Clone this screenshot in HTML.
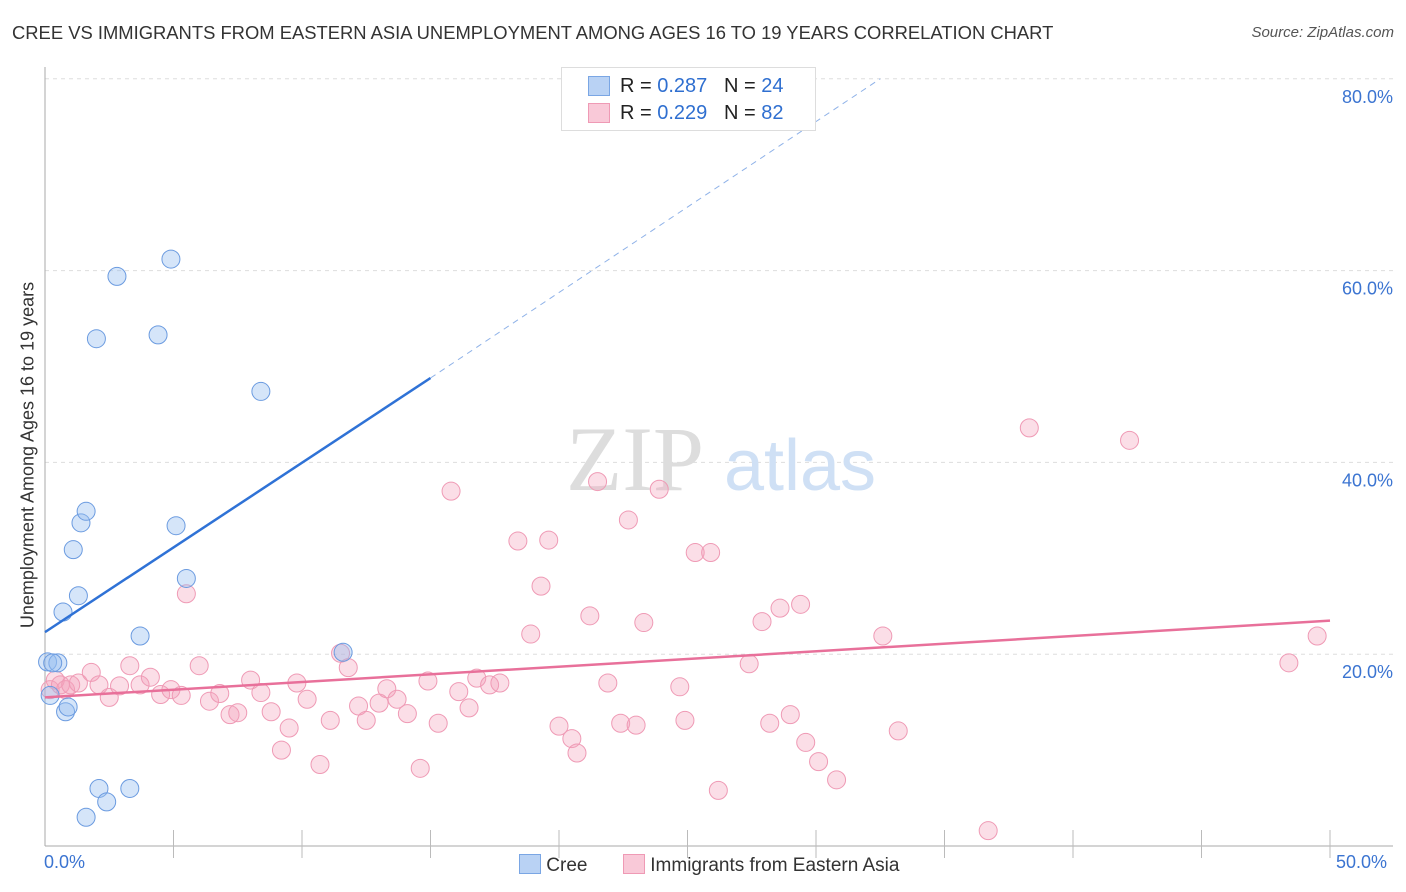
<!DOCTYPE html>
<html><head><meta charset="utf-8"><style>
body{margin:0;background:#fff;font-family:"Liberation Sans",sans-serif;}
#wrap{position:relative;width:1406px;height:892px;overflow:hidden;}
.t{position:absolute;white-space:nowrap;}
</style></head><body>
<div id="wrap">
<div class="t" style="left:12px;top:22px;font-size:18.4px;color:#333;">CREE VS IMMIGRANTS FROM EASTERN ASIA UNEMPLOYMENT AMONG AGES 16 TO 19 YEARS CORRELATION CHART</div>
<div class="t" style="right:12px;top:24px;font-size:15px;color:#555;font-style:italic;">Source: ZipAtlas.com</div>
<svg id="svg" width="1406" height="892" style="position:absolute;left:0;top:0"></svg>
</div>
<script>
const yTicks=[20,40,60,80];
const yTickLabels=["20.0%","40.0%","60.0%","80.0%"];
const cree=[[0.1,19.2],[0.2,15.7],[0.5,19.1],[0.3,19.1],[0.7,24.4],[0.8,14.0],[0.9,14.5],[1.1,30.9],[1.3,26.1],[1.4,33.7],[1.6,34.9],[2.0,52.9],[2.1,6.0],[2.4,4.6],[1.6,3.0],[2.8,59.4],[3.3,6.0],[3.7,21.9],[4.4,53.3],[4.9,61.2],[5.1,33.4],[5.5,27.9],[8.4,47.4],[11.6,20.2]];
const eastAsia=[[0.2,16.3],[0.4,17.3],[0.6,16.8],[0.8,16.3],[1.0,16.8],[1.3,17.0],[1.8,18.1],[2.1,16.8],[2.5,15.5],[2.9,16.7],[3.3,18.8],[3.7,16.8],[4.1,17.6],[4.5,15.8],[4.9,16.3],[5.3,15.7],[5.5,26.3],[6.0,18.8],[6.4,15.1],[6.8,15.9],[7.2,13.7],[7.5,13.9],[8.0,17.3],[8.4,16.0],[8.8,14.0],[9.2,10.0],[9.5,12.3],[9.8,17.0],[10.2,15.3],[10.7,8.5],[11.1,13.1],[11.5,20.1],[11.8,18.6],[12.2,14.6],[12.5,13.1],[13.0,14.9],[13.3,16.4],[13.7,15.3],[14.1,13.8],[14.6,8.1],[14.9,17.2],[15.3,12.8],[15.8,37.0],[16.1,16.1],[16.5,14.4],[16.8,17.5],[17.3,16.8],[17.7,17.0],[18.4,31.8],[18.9,22.1],[19.3,27.1],[19.6,31.9],[20.0,12.5],[20.5,11.2],[20.7,9.7],[21.2,24.0],[21.5,38.0],[21.9,17.0],[22.4,12.8],[22.7,34.0],[23.0,12.6],[23.3,23.3],[23.9,37.2],[24.7,16.6],[24.9,13.1],[25.3,30.6],[25.9,30.6],[26.2,5.8],[27.4,19.0],[27.9,23.4],[28.2,12.8],[28.6,24.8],[29.0,13.7],[29.4,25.2],[29.6,10.8],[30.1,8.8],[30.8,6.9],[32.6,21.9],[33.2,12.0],[36.7,1.6],[38.3,43.6],[42.2,42.3],[48.4,19.1],[49.5,21.9]];
const creeLine=[[0,22.3],[15,48.8]];
const creeDash=[[15,48.8],[32.5,80]];
const eaLine=[[0,15.5],[50,23.5]];
const X=v=>45+v*25.7, Y=v=>846-v*9.59;
const svg=document.getElementById('svg');const NS='http://www.w3.org/2000/svg';
function mk(tag,attrs,name){const e=document.createElementNS(NS,tag);for(const k in attrs)e.setAttribute(k,attrs[k]);


svg.appendChild(e);return e;}
yTicks.forEach((t,i)=>{mk('line',{x1:45,x2:1393,y1:Y(t),y2:Y(t),stroke:'#ddd','stroke-dasharray':'4,4'},'gridline');
const tx=mk('text',{x:1393,y:Y(t)+24,'text-anchor':'end','font-size':18,fill:'#3b74d1'},'y-tick-label');tx.textContent=yTickLabels[i];});
mk('line',{x1:45,x2:45,y1:67,y2:846,stroke:'#aaa'},'y-axis');
mk('line',{x1:45,x2:1393,y1:846,y2:846,stroke:'#aaa'},'x-axis');
for(let i=1;i<=10;i++)mk('line',{x1:X(i*5),x2:X(i*5),y1:830,y2:858,stroke:'#bbb'},'x-tick');
let w=mk('text',{x:635,y:490,'text-anchor':'middle','font-size':92,fill:'#ddd','font-family':'Liberation Serif'},'watermark-zip');w.textContent='ZIP';
w=mk('text',{x:800,y:490,'text-anchor':'middle','font-size':72,fill:'#cfe0f5'},'watermark-atlas');w.textContent='atlas';
eastAsia.forEach(p=>mk('circle',{cx:X(p[0]),cy:Y(p[1]),r:9,fill:'rgba(244,160,186,0.35)',stroke:'#ef9ab5','stroke-width':1},'east-asia-point'));
cree.forEach(p=>mk('circle',{cx:X(p[0]),cy:Y(p[1]),r:9,fill:'rgba(150,190,240,0.4)',stroke:'#6b9be0','stroke-width':1},'cree-point'));
mk('line',{x1:X(creeLine[0][0]),y1:Y(creeLine[0][1]),x2:X(creeLine[1][0]),y2:Y(creeLine[1][1]),stroke:'#2f72d6','stroke-width':2.5},'cree-trendline');
mk('line',{x1:X(creeDash[0][0]),y1:Y(creeDash[0][1]),x2:X(creeDash[1][0]),y2:Y(creeDash[1][1]),stroke:'#8fb2e8','stroke-width':1,'stroke-dasharray':'6,5'},'cree-trendline-extension');
mk('line',{x1:X(eaLine[0][0]),y1:Y(eaLine[0][1]),x2:X(eaLine[1][0]),y2:Y(eaLine[1][1]),stroke:'#e8709a','stroke-width':2.5},'east-asia-trendline');
</script>
<div class="t" style="left:28px;top:455px;font-size:18px;color:#333;transform:translate(-50%,-50%) rotate(-90deg);">Unemployment Among Ages 16 to 19 years</div>
<div class="t" style="left:44px;top:852px;font-size:18px;color:#3b74d1;">0.0%</div>
<div class="t" style="left:1336px;top:852px;font-size:18px;color:#3b74d1;">50.0%</div>
<div style="position:absolute;left:561px;top:67px;width:253px;height:62px;border:1px solid #ddd;background:#fff;font-size:20px;">
 <div style="position:absolute;left:26px;top:8px;width:20px;height:18px;background:#b9d2f4;border:1px solid #7aa6e4"></div>
 <div class="t" style="left:58px;top:7px;color:#222">R = <span style="color:#2f6fd0">0.287</span>&nbsp;&nbsp;&nbsp;N = <span style="color:#2f6fd0">24</span></div>
 <div style="position:absolute;left:26px;top:35px;width:20px;height:18px;background:#f9c9d8;border:1px solid #ef9ab5"></div>
 <div class="t" style="left:58px;top:34px;color:#222">R = <span style="color:#2f6fd0">0.229</span>&nbsp;&nbsp;&nbsp;N = <span style="color:#2f6fd0">82</span></div>
</div>
<div style="position:absolute;left:519px;top:854px;font-size:19px;color:#333;">
 <span style="display:inline-block;width:20px;height:18px;background:#b9d2f4;border:1px solid #7aa6e4;vertical-align:-3px"></span> Cree</div>
<div style="position:absolute;left:623px;top:854px;font-size:19px;color:#333;">
 <span style="display:inline-block;width:20px;height:18px;background:#f9c9d8;border:1px solid #ef9ab5;vertical-align:-3px"></span> Immigrants from Eastern Asia</div>
</body></html>
